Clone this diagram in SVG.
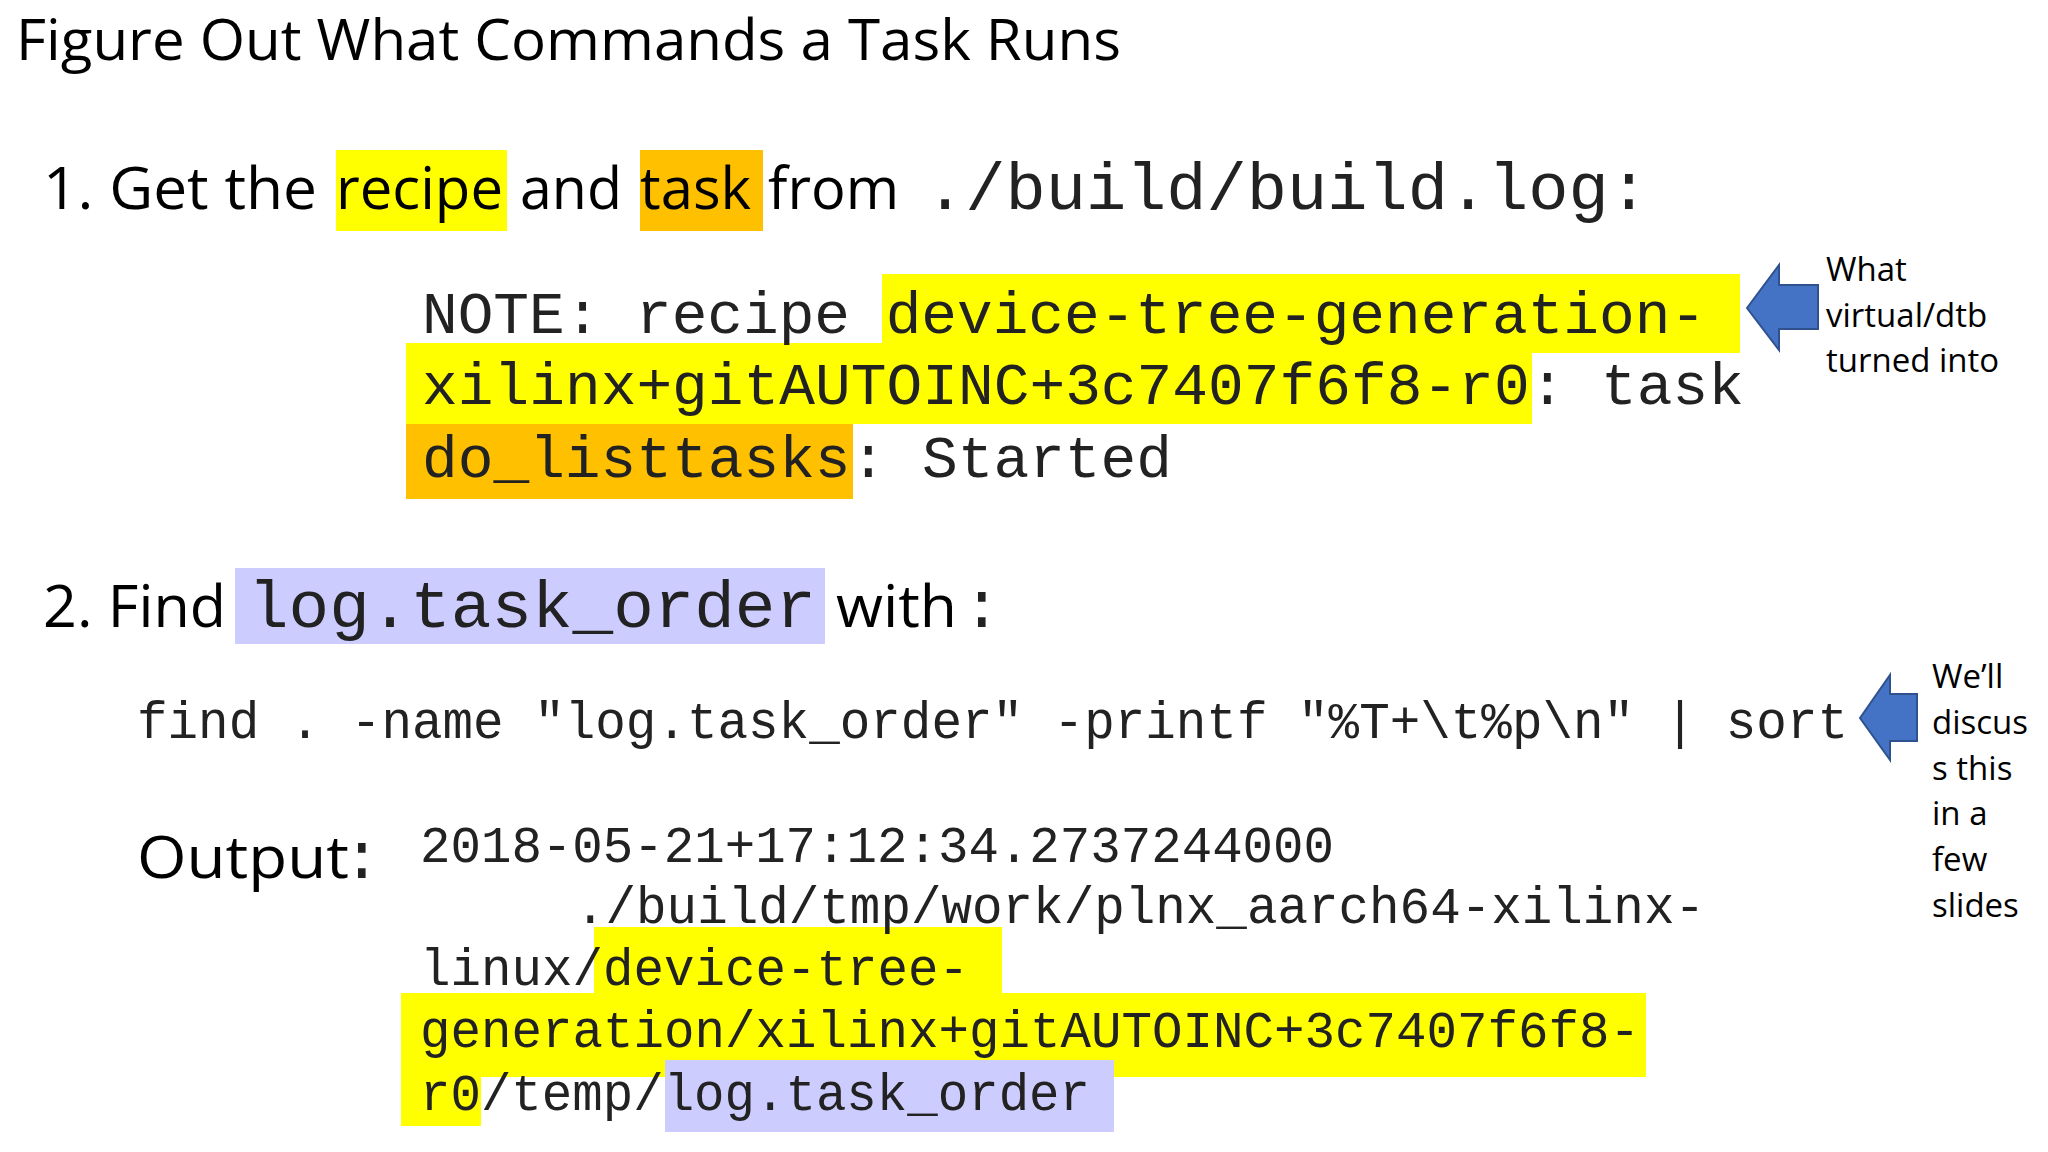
<svg xmlns="http://www.w3.org/2000/svg" width="2048" height="1152" viewBox="0 0 2048 1152">
<style>
.s{font-family:"Open Sans","Liberation Sans",sans-serif;fill:#000}
.m{font-family:"Liberation Mono","DejaVu Sans Mono",monospace;fill:#222}
.y{fill:#ffff00}.o{fill:#ffc000}.l{fill:#ccccff}
.a{fill:#4472c4;stroke:#2f528f;stroke-width:2}
.n{font-family:"Open Sans","Liberation Sans",sans-serif;font-size:33px;fill:#000}
</style>
<rect width="2048" height="1152" fill="#fff"/>
<g id="title"><text class="s" x="16" y="60" font-size="56" textLength="1105" lengthAdjust="spacingAndGlyphs">Figure Out What Commands a Task Runs</text></g>
<g id="step1">
<rect class="y" x="336" y="150" width="171" height="81"/>
<rect class="o" x="640" y="150" width="123" height="81"/>
<text class="s" font-size="58" y="209"><tspan x="43" textLength="274" lengthAdjust="spacingAndGlyphs">1. Get the</tspan><tspan x="336" textLength="167" lengthAdjust="spacingAndGlyphs">recipe</tspan><tspan x="520" textLength="102" lengthAdjust="spacingAndGlyphs">and</tspan><tspan x="640" textLength="111" lengthAdjust="spacingAndGlyphs">task</tspan><tspan x="768" textLength="131" lengthAdjust="spacingAndGlyphs">from</tspan></text>
<text class="m" font-size="66" x="925" y="209" textLength="724" lengthAdjust="spacingAndGlyphs">./build/build.log:</text>
</g>
<g id="note">
<rect class="y" x="882" y="274" width="858" height="79"/>
<rect class="y" x="406" y="343" width="1126" height="81"/>
<rect class="o" x="406" y="424" width="447" height="75"/>
<text class="m" font-size="59" x="422" y="333" textLength="1284" lengthAdjust="spacingAndGlyphs">NOTE: recipe device-tree-generation-</text>
<text class="m" font-size="59" x="422" y="404" textLength="1322" lengthAdjust="spacingAndGlyphs">xilinx+gitAUTOINC+3c7407f6f8-r0: task</text>
<text class="m" font-size="59" x="422" y="477" textLength="750" lengthAdjust="spacingAndGlyphs">do_listtasks: Started</text>
</g>
<g id="arrow1"><polygon class="a" points="1747,308 1779,265 1779,285 1818,285 1818,329 1779,329 1779,350"/></g>
<g id="note1"><text class="n" x="1826" y="281">What</text><text class="n" x="1826" y="327">virtual/dtb</text><text class="n" x="1826" y="372">turned into</text></g>
<g id="step2">
<rect class="l" x="235" y="568" width="590" height="76"/>
<text class="s" font-size="58" x="43" y="627" textLength="183" lengthAdjust="spacingAndGlyphs">2. Find</text>
<text class="m" font-size="66" x="248" y="627" textLength="568" lengthAdjust="spacingAndGlyphs">log.task_order</text>
<text class="s" font-size="58" x="836" y="627" textLength="121" lengthAdjust="spacingAndGlyphs">with</text>
<text class="m" font-size="66" x="962" y="627">:</text>
</g>
<g id="find"><text class="m" font-size="51" x="137" y="738" textLength="1711" lengthAdjust="spacingAndGlyphs">find . -name "log.task_order" -printf "%T+\t%p\n" | sort</text></g>
<g id="arrow2"><polygon class="a" points="1860,718 1890,675 1890,694 1917,694 1917,741 1890,741 1890,760"/></g>
<g id="note2"><text class="n" x="1932" y="688">We’ll</text><text class="n" x="1932" y="734">discus</text><text class="n" x="1932" y="780">s this</text><text class="n" x="1932" y="825">in a</text><text class="n" x="1932" y="871">few</text><text class="n" x="1932" y="917">slides</text></g>
<g id="output">
<rect class="y" x="594" y="927" width="408" height="66"/>
<rect class="y" x="401" y="993" width="1245" height="84"/>
<rect class="y" x="401" y="1077" width="80" height="49"/>
<rect class="l" x="665" y="1060" width="449" height="72"/>
<text class="s" font-size="58" x="137" y="878" textLength="212" lengthAdjust="spacingAndGlyphs">Output</text>
<text class="m" font-size="66" x="342" y="878">:</text>
<text class="m" font-size="51" x="420" y="862" textLength="914" lengthAdjust="spacingAndGlyphs">2018-05-21+17:12:34.2737244000</text>
<text class="m" font-size="51" x="575" y="923" textLength="1130" lengthAdjust="spacingAndGlyphs">./build/tmp/work/plnx_aarch64-xilinx-</text>
<text class="m" font-size="51" x="420" y="985" textLength="549" lengthAdjust="spacingAndGlyphs">linux/device-tree-</text>
<text class="m" font-size="51" x="420" y="1047" textLength="1220" lengthAdjust="spacingAndGlyphs">generation/xilinx+gitAUTOINC+3c7407f6f8-</text>
<text class="m" font-size="51" x="420" y="1110" textLength="670" lengthAdjust="spacingAndGlyphs">r0/temp/log.task_order</text>
</g>
</svg>
